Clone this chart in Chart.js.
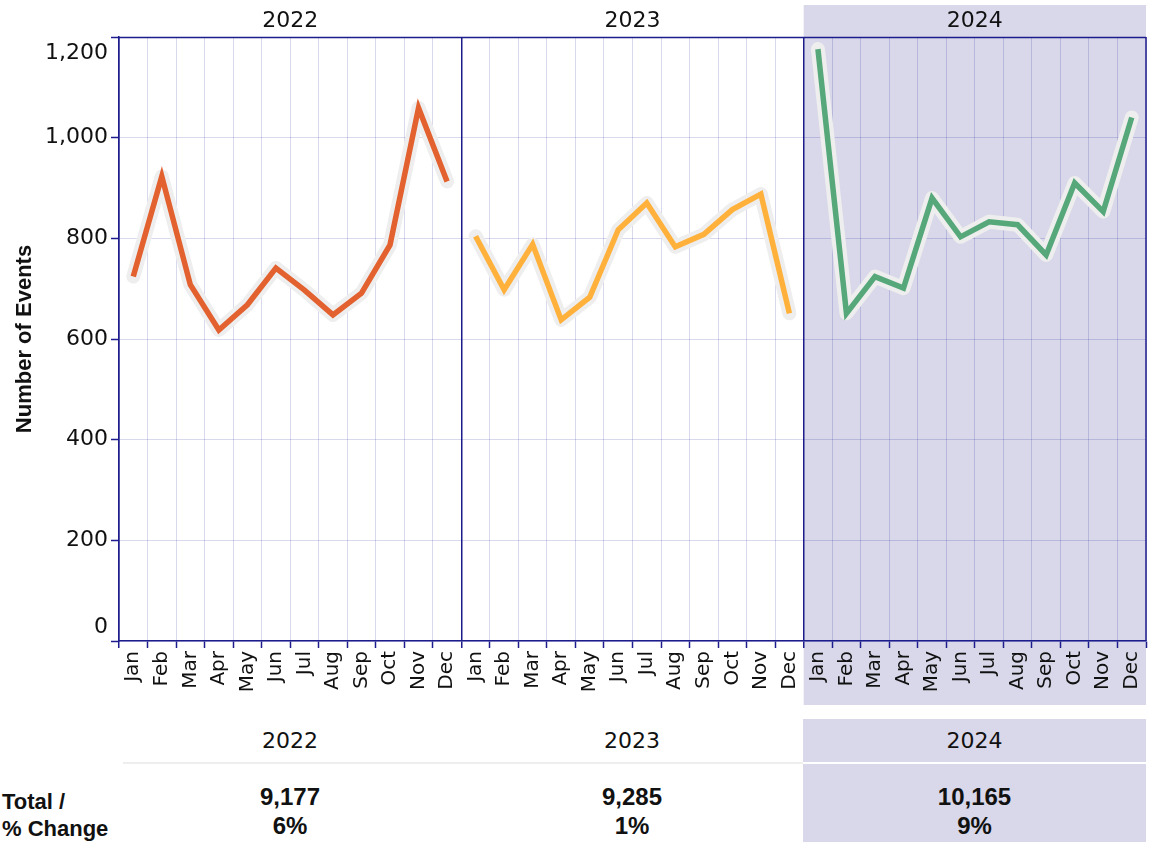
<!DOCTYPE html>
<html>
<head>
<meta charset="utf-8">
<script src="https://cdn.jsdelivr.net/npm/chart.js@4.4.1/dist/chart.umd.min.js"></script>
<style>
  html, body { margin: 0; padding: 0; background: #ffffff; }
  #wrap { position: relative; width: 1160px; height: 842px; overflow: hidden; }
  #c { position: absolute; left: 0; top: 0; }
  .abs { position: absolute; color: #111; white-space: nowrap; }
  .yr { text-align: center; font: 22px "DejaVu Sans", sans-serif; height: 30px; line-height: 30px; }
  .val { text-align: center; font: bold 24px "Liberation Sans", Arial, sans-serif; height: 30px; line-height: 30px; }
  .lab { font: bold 22px "Liberation Sans", Arial, sans-serif; height: 28px; line-height: 28px; }
</style>
</head>
<body>
<div id="wrap">
  <canvas id="c" width="1160" height="710"></canvas>
  <div id="table"></div>
</div>
<script>
// ---------- data ----------
const months = ['Jan','Feb','Mar','Apr','May','Jun','Jul','Aug','Sep','Oct','Nov','Dec'];
const years = ['2022', '2023', '2024'];
const events2022 = [724, 923, 708, 618, 668, 741, 697, 648, 691, 787, 1059, 913];
const events2023 = [804, 698, 788, 638, 683, 817, 870, 783, 808, 857, 888, 651];
const events2024 = [1176, 651, 724, 701, 880, 803, 833, 827, 767, 910, 853, 1040];
const totals = ['9,177', '9,285', '10,165'];
const pctChange = ['6%', '1%', '9%'];
const yTickValues = [0, 200, 400, 600, 800, 1000, 1200];
const yTickLabels = ['0', '200', '400', '600', '800', '1,000', '1,200'];

// ---------- styles ----------
const NAVY = '#1c1c8c';
const GRID = 'rgba(0,0,139,0.15)';
const PANEL_BG = '#d8d8ea';
const HALO = '#eeeeee';
const COLORS = ['#e2612f', '#ffb13b', '#56a87a'];
const TEXT = '#111111';

const allSeries = [events2022, events2023, events2024];
const labels = [];
years.forEach(() => months.forEach(m => labels.push(m)));

function placed(values, panel) {
  const arr = [];
  for (let p = 0; p < years.length; p++) {
    months.forEach((m, i) => arr.push(p === panel ? values[i] : null));
  }
  return arr;
}

const datasets = [];
allSeries.forEach((vals, p) => {
  datasets.push({
    label: years[p] + ' line',
    data: placed(vals, p),
    borderColor: COLORS[p],
    borderWidth: 5.5,
    borderJoinStyle: 'miter',
    borderCapStyle: 'butt',
    pointRadius: 0,
    tension: 0,
    spanGaps: false,
    order: 1
  });
});
allSeries.forEach((vals, p) => {
  datasets.push({
    label: years[p] + ' halo',
    data: placed(vals, p),
    borderColor: HALO,
    borderWidth: 14,
    borderJoinStyle: 'round',
    borderCapStyle: 'round',
    pointRadius: 0,
    tension: 0,
    spanGaps: false,
    order: 2
  });
});

const nPer = months.length;

const facetPlugin = {
  id: 'facets',
  beforeDraw(chart) {
    const xs = chart.scales.x, ca = chart.chartArea, ctx = chart.ctx;
    const bw = (xs.right - xs.left) / labels.length;
    const left3 = xs.left + bw * nPer * 2;
    ctx.save();
    ctx.fillStyle = PANEL_BG;
    ctx.fillRect(left3, 5, ca.right - left3, 705 - 5);
    ctx.restore();
  },
  beforeDatasetsDraw(chart) {
    const ca = chart.chartArea, ctx = chart.ctx;
    ctx.save();
    ctx.strokeStyle = NAVY;
    ctx.lineWidth = 1.5;
    ctx.beginPath();
    ctx.moveTo(ca.left, ca.top + 0.5);
    ctx.lineTo(ca.right, ca.top + 0.5);
    ctx.moveTo(ca.right, ca.top);
    ctx.lineTo(ca.right, ca.bottom);
    ctx.stroke();
    ctx.restore();
  },
  afterDraw(chart) {
    const xs = chart.scales.x, ys = chart.scales.y, ctx = chart.ctx;
    const bw = (xs.right - xs.left) / labels.length;
    ctx.save();
    ctx.fillStyle = TEXT;
    // facet headers
    ctx.font = '22px "DejaVu Sans", sans-serif';
    ctx.textAlign = 'center';
    ctx.textBaseline = 'middle';
    years.forEach((y, p) => {
      const cx = xs.left + bw * nPer * (p + 0.5);
      ctx.fillText(y, cx, 21);
    });
    // y tick labels (first/last flush inside the axis range)
    ctx.textAlign = 'right';
    yTickValues.forEach((v, i) => {
      let py = ys.getPixelForValue(v);
      if (i === 0) { ctx.textBaseline = 'bottom'; py -= 3; }
      else if (i === yTickValues.length - 1) { ctx.textBaseline = 'top'; py += 5; }
      else ctx.textBaseline = 'middle';
      ctx.fillText(yTickLabels[i], ys.right - 11, py);
    });
    ctx.restore();
  }
};

Chart.defaults.font.family = '"DejaVu Sans", sans-serif';

new Chart(document.getElementById('c'), {
  type: 'line',
  data: { labels, datasets },
  options: {
    responsive: false,
    animation: false,
    devicePixelRatio: 1,
    layout: { padding: { top: 37, right: 14, left: 0, bottom: 0 } },
    plugins: { legend: { display: false }, tooltip: { enabled: false } },
    scales: {
      x: {
        type: 'category',
        offset: true,
        grid: {
          offset: true,
          color: c => (c.index % nPer === 0 ? NAVY : GRID),
          lineWidth: c => (c.index % nPer === 0 ? 1.5 : 1),
          tickColor: NAVY,
          tickLength: 7,
          tickWidth: 1.5,
          drawTicks: true
        },
        border: { display: true, color: NAVY, width: 1.5 },
        ticks: {
          autoSkip: false,
          maxRotation: 90,
          minRotation: 90,
          padding: 3,
          color: TEXT,
          font: { family: '"DejaVu Sans", sans-serif', size: 20 }
        },
        afterFit(s) { s.height = 69; }
      },
      y: {
        min: 0,
        max: 1200,
        ticks: { stepSize: 200, display: false },
        grid: { color: GRID, tickColor: NAVY, tickLength: 8, tickWidth: 1.5, drawTicks: true },
        border: { display: true, color: NAVY, width: 1.5 },
        title: {
          display: true,
          text: 'Number of Events',
          color: TEXT,
          font: { family: '"Liberation Sans", Arial, sans-serif', weight: 'bold', size: 22 },
          padding: { top: 12, bottom: 0 }
        },
        afterFit(s) { s.width = 119; }
      }
    }
  },
  plugins: [facetPlugin]
});

// ---------- summary table (HTML text) ----------
const table = document.getElementById('table');
const colLeft = [119, 461, 803];
const colRight = [461, 803, 1146];
function addDiv(cls, text, style) {
  const d = document.createElement('div');
  d.className = 'abs ' + cls;
  d.textContent = text;
  Object.assign(d.style, style);
  table.appendChild(d);
  return d;
}
// 2024 highlight cell
addDiv('', '', { left: '803px', top: '719px', width: '343px', height: '123px', background: PANEL_BG });
// separator line
addDiv('', '', { left: '123px', top: '762px', width: '680px', height: '2px', background: '#eeeeee' });
addDiv('', '', { left: '803px', top: '762px', width: '343px', height: '2px', background: '#ffffff' });
years.forEach((y, p) => {
  const left = colLeft[p];
  const width = colRight[p] - left;
  addDiv('yr', y, { left: left + 'px', width: width + 'px', top: '726px' });
  addDiv('val', totals[p], { left: left + 'px', width: width + 'px', top: '782px' });
  addDiv('val', pctChange[p], { left: left + 'px', width: width + 'px', top: '811px' });
});
addDiv('lab', 'Total /', { left: '2px', top: '788px' });
addDiv('lab', '% Change', { left: '2px', top: '815px' });
</script>
</body>
</html>
